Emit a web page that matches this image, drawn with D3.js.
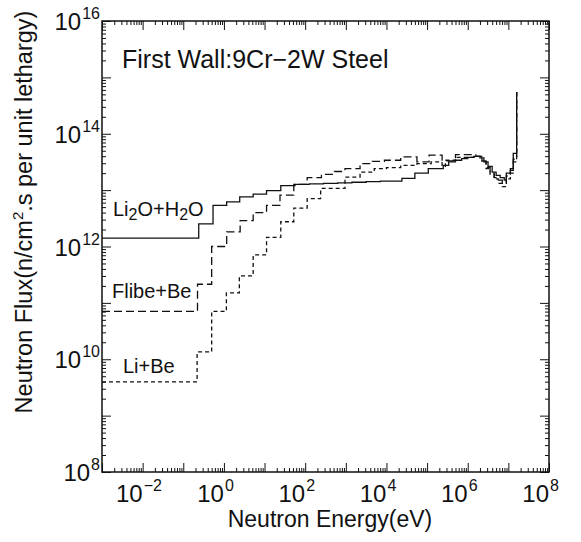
<!DOCTYPE html>
<html>
<head>
<meta charset="utf-8">
<script src="https://cdn.jsdelivr.net/npm/d3@7"></script>
<style>
  body { margin: 0; background: #fff; }
  text { font-family: "Liberation Sans", Arial, Helvetica, sans-serif; fill: #111; }
</style>
</head>
<body>
<svg id="chart" width="581" height="542"></svg>
<script>
// step spectra, bin lower edges in eV, flux in n/cm2.s per unit lethargy
// last point is the 14 MeV source spike
const li2oE = [1e-3, 0.24, 0.54, 1.17, 2.45, 5.25, 11.2, 25.1, 56.2, 126, 282, 631, 1410, 3160, 7080,
  2.4e4, 5.0e4, 1.07e5, 2.5e5, 3.4e5, 5.0e5, 7.1e5, 1.0e6, 1.41e6, 2.0e6,
  2.5e6, 3.16e6, 4.0e6, 5.0e6, 6.3e6, 7.9e6, 8.9e6, 1.12e7, 1.32e7, 1.6e7];
const li2oF = [1.41e12, 2.51e12, 5.37e12, 6.17e12, 7.59e12, 8.51e12, 9.77e12, 1.20e13, 1.26e13, 1.29e13, 1.32e13, 1.35e13, 1.38e13, 1.41e13, 1.45e13,
  1.62e13, 2.0e13, 2.4e13, 2.75e13, 3.16e13, 3.39e13, 3.63e13, 3.8e13, 3.98e13, 3.72e13,
  3.16e13, 2.63e13, 2.09e13, 1.82e13, 1.66e13, 1.51e13, 2.0e13, 2.4e13, 4.47e13, 5.5e14];

const flibeE = [1e-3, 0.224, 0.50, 1.17, 2.51, 5.25, 11.2, 24.0, 52.5, 112, 251, 525, 955, 2240, 4470, 8910,
  2.24e4, 5.62e4, 1.12e5, 2.34e5, 5.0e5, 1.58e6, 2.24e6, 2.82e6, 3.55e6, 4.47e6, 5.62e6, 7.08e6, 8.91e6, 1.12e7, 1.32e7, 1.6e7];
const flibeF = [7.08e10, 2.14e11, 1.0e12, 1.82e12, 2.88e12, 3.98e12, 5.37e12, 8.13e12, 1.26e13, 1.66e13, 1.91e13, 2.14e13, 2.4e13, 2.95e13, 3.24e13, 3.39e13,
  3.89e13, 3.16e13, 4.17e13, 3.31e13, 4.27e13, 3.98e13, 3.31e13, 2.51e13, 2.0e13, 1.66e13, 1.51e13, 1.32e13, 1.78e13, 2.24e13, 3.55e13, 5.5e14];

const libeE = [1e-3, 0.219, 0.50, 1.15, 2.40, 5.25, 11.2, 25.1, 52.5, 112, 240, 955, 2240, 5010, 1.0e4,
  2.24e4, 5.62e4, 1.26e5, 2.34e5, 2.82e5, 5.0e5, 1.58e6, 2.24e6, 2.82e6, 3.55e6, 4.47e6, 5.62e6, 7.08e6, 8.91e6, 1.12e7, 1.32e7, 1.6e7];
const libeF = [3.98e9, 1.35e10, 7.08e10, 1.51e11, 3.02e11, 7.08e11, 1.45e12, 2.75e12, 4.79e12, 7.08e12, 1.07e13, 1.70e13, 2.09e13, 2.4e13, 2.51e13,
  2.75e13, 2.95e13, 3.16e13, 2.63e13, 3.39e13, 3.8e13, 3.98e13, 3.16e13, 2.4e13, 1.91e13, 1.58e13, 1.32e13, 1.15e13, 1.58e13, 2.0e13, 3.16e13, 5.5e14];

const seriesNames = ["Li2O+H2O", "Flibe+Be", "Li+Be"];
const xTickExps = [-2, 0, 2, 4, 6, 8];
const yTickExps = [8, 10, 12, 14, 16];
const titleText = "First Wall:9Cr\u22122W Steel";

const svg = d3.select("#chart");
const pL = 102, pR = 549, pT = 21, pB = 472;

const x = d3.scaleLog().domain([1e-3, 1e8]).range([pL, pR]);
const y = d3.scaleLog().domain([1e8, 1e16]).range([pB, pT]);

// decade and minor tick positions
const xMajor = d3.range(-3, 9).map(e => Math.pow(10, e));
const yMajor = d3.range(8, 17).map(e => Math.pow(10, e));
const minorOf = (lo, hi) => {
  const out = [];
  for (let e = lo; e < hi; e++) for (let m = 2; m <= 9; m++) out.push(m * Math.pow(10, e));
  return out;
};
const xMinor = minorOf(-3, 8);
const yMinor = minorOf(8, 16);

const addAxis = (gen, tr) => {
  const g = svg.append("g").attr("transform", tr).call(gen);
  g.select(".domain").remove();
  g.selectAll("text").remove();
  g.selectAll("line").attr("stroke", "#111").attr("stroke-width", 1);
};
addAxis(d3.axisBottom(x).tickValues(xMajor).tickSize(-9), `translate(0,${pB})`);
addAxis(d3.axisBottom(x).tickValues(xMinor).tickSize(-4), `translate(0,${pB})`);
addAxis(d3.axisTop(x).tickValues(xMajor).tickSize(-9), `translate(0,${pT})`);
addAxis(d3.axisTop(x).tickValues(xMinor).tickSize(-4), `translate(0,${pT})`);
addAxis(d3.axisLeft(y).tickValues(yMajor).tickSize(-9), `translate(${pL},0)`);
addAxis(d3.axisLeft(y).tickValues(yMinor).tickSize(-4), `translate(${pL},0)`);
addAxis(d3.axisRight(y).tickValues(yMajor).tickSize(-9), `translate(${pR},0)`);
addAxis(d3.axisRight(y).tickValues(yMinor).tickSize(-4), `translate(${pR},0)`);

svg.append("rect")
  .attr("x", pL).attr("y", pT)
  .attr("width", pR - pL).attr("height", pB - pT)
  .attr("fill", "none").attr("stroke", "#111").attr("stroke-width", 1.5);

// x tick labels: "10" ends at the tick, exponent after
xTickExps.forEach(e => {
  const px = x(Math.pow(10, e));
  svg.append("text").attr("x", px).attr("y", 502)
    .attr("text-anchor", "end").attr("font-size", 24).text("10");
  svg.append("text").attr("x", px + 1).attr("y", 491)
    .attr("font-size", 16).text(String(e).replace("-", "\u2212"));
});

// y tick labels, right aligned to the axis
yTickExps.forEach(e => {
  const py = y(Math.pow(10, e));
  const sup = svg.append("text").attr("x", pL - 2).attr("y", py - 2)
    .attr("text-anchor", "end").attr("font-size", 16).text(e);
  const w = sup.node().getComputedTextLength();
  svg.append("text").attr("x", pL - 3 - w).attr("y", py + 9)
    .attr("text-anchor", "end").attr("font-size", 24).text("10");
});

// axis titles
svg.append("text").attr("x", 330).attr("y", 527)
  .attr("text-anchor", "middle").attr("font-size", 23).text("Neutron Energy(eV)");

const yt = svg.append("text")
  .attr("transform", "translate(32,212) rotate(-90)")
  .attr("text-anchor", "middle").attr("font-size", 23.5);
yt.append("tspan").text("Neutron Flux(n/cm");
yt.append("tspan").attr("font-size", 15).attr("dy", -9).text("2");
yt.append("tspan").attr("dy", 9).text(".s per unit lethargy)");

svg.append("text").attr("x", 122).attr("y", 68)
  .attr("font-size", 25).text(titleText);

// spectra
const line = d3.line()
  .x(d => x(d[0]))
  .y(d => y(d[1]))
  .curve(d3.curveStepAfter);

const series = [
  { e: li2oE, f: li2oF, dash: null },
  { e: flibeE, f: flibeF, dash: "8,4" },
  { e: libeE, f: libeF, dash: "4,3" }
];
series.forEach(s => {
  svg.append("path")
    .datum(d3.zip(s.e, s.f))
    .attr("fill", "none")
    .attr("stroke", "#111")
    .attr("stroke-width", 1.3)
    .attr("stroke-dasharray", s.dash)
    .attr("d", line);
});

// curve labels
const lab1 = svg.append("text").attr("x", 113).attr("y", 216).attr("font-size", 20);
lab1.append("tspan").text("Li");
lab1.append("tspan").attr("font-size", 16).attr("dy", 4).text("2");
lab1.append("tspan").attr("dy", -4).text("O+H");
lab1.append("tspan").attr("font-size", 16).attr("dy", 4).text("2");
lab1.append("tspan").attr("dy", -4).text("O");

svg.append("text").attr("x", 112).attr("y", 298).attr("font-size", 20).text(seriesNames[1]);
svg.append("text").attr("x", 123).attr("y", 373).attr("font-size", 20).text(seriesNames[2]);
</script>
</body>
</html>
